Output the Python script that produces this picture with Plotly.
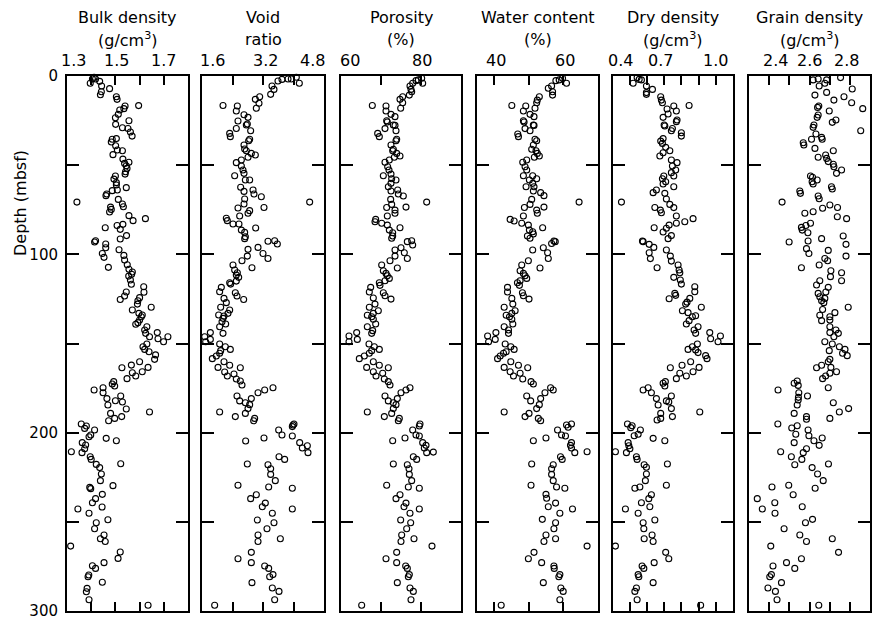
import plotly.graph_objects as go

# ---------------------------------------------------------------- data
# Bulk density (g/cm3) vs depth (mbsf)
BULK_DEPTH = [
    0.7, 1.7, 1.7, 4.1, 3.0, 5.6, 7.1, 8.8, 10.5, 11.6,
    13.1, 16.6, 16.8, 18.3, 19.1, 21.5, 23.4, 25.1, 27.1, 29.0,
    29.4, 31.4, 33.7, 35.5, 37.0, 35.1, 39.1, 41.5, 44.1, 41.9,
    46.6, 49.0, 50.3, 51.8, 48.4, 53.7, 55.0, 56.1, 57.8, 59.8,
    61.1, 62.6, 64.3, 66.2, 67.1, 63.9, 70.7, 69.2, 73.5, 74.8,
    71.8, 73.3, 76.3, 78.3, 81.1, 80.0, 83.2, 86.0, 83.8, 89.5,
    85.1, 91.4, 92.4, 93.1, 94.2, 96.3, 99.5, 101.7, 107.3, 97.4,
    100.6, 103.2, 105.8, 108.4, 109.9, 111.2, 112.2, 114.4, 116.8, 118.2,
    121.3, 124.3, 126.0, 127.9, 121.1, 123.4, 125.3, 129.7,
    131.2, 133.1, 134.0, 135.0, 136.8, 139.2, 138.3, 140.6, 142.4, 144.3,
    146.2, 143.9, 147.3, 146.2, 149.0, 150.3, 151.8, 153.3, 154.6, 156.4,
    158.9, 160.2, 162.1, 166.4, 163.6, 169.7, 168.2, 165.8, 163.4, 171.4,
    172.7, 173.8, 176.1, 174.8, 177.6, 180.9, 184.5, 182.1, 179.4, 182.8,
    186.7, 189.2, 193.3, 192.0, 191.0, 188.4, 195.1, 196.3, 197.6, 198.5,
    201.3, 202.3, 203.2, 204.5, 205.6, 206.9, 209.0, 211.2, 210.7, 213.5,
    215.0, 217.8, 219.6, 223.2, 226.9, 217.4, 229.7, 230.7, 231.4, 234.6,
    239.3, 237.0, 241.7, 242.8, 245.2, 248.8, 250.5, 253.9, 257.4, 259.5,
    261.0, 263.6, 266.9, 270.5, 272.9, 274.6, 276.1, 279.8, 280.8, 283.9,
    287.3, 289.2, 293.7, 296.8,
]
BULK_VALUE = [
    1.412, 1.405, 1.418, 1.396, 1.435, 1.443, 1.476, 1.442, 1.438, 1.504,
    1.507, 1.596, 1.540, 1.535, 1.518, 1.512, 1.500, 1.556, 1.501, 1.529,
    1.552, 1.562, 1.569, 1.487, 1.483, 1.504, 1.501, 1.508, 1.490, 1.529,
    1.531, 1.538, 1.545, 1.548, 1.556, 1.542, 1.540, 1.500, 1.494, 1.504,
    1.504, 1.545, 1.487, 1.464, 1.461, 1.508, 1.341, 1.512, 1.480, 1.483,
    1.529, 1.533, 1.476, 1.556, 1.573, 1.624, 1.531, 1.520, 1.507, 1.546,
    1.458, 1.520, 1.418, 1.414, 1.460, 1.460, 1.446, 1.453, 1.471, 1.515,
    1.535, 1.538, 1.549, 1.556, 1.570, 1.567, 1.555, 1.562, 1.566, 1.617,
    1.618, 1.600, 1.593, 1.591, 1.545, 1.538, 1.520, 1.648,
    1.570, 1.597, 1.611, 1.607, 1.600, 1.584, 1.593, 1.630, 1.621, 1.625,
    1.641, 1.673, 1.676, 1.717, 1.699, 1.630, 1.614, 1.621, 1.639, 1.666,
    1.662, 1.600, 1.566, 1.570, 1.527, 1.548, 1.584, 1.611, 1.635, 1.493,
    1.487, 1.497, 1.412, 1.449, 1.449, 1.465, 1.469, 1.500, 1.522, 1.529,
    1.545, 1.480, 1.472, 1.497, 1.526, 1.641, 1.359, 1.380, 1.373, 1.414,
    1.398, 1.391, 1.462, 1.504, 1.363, 1.377, 1.373, 1.362, 1.318, 1.396,
    1.400, 1.421, 1.435, 1.442, 1.438, 1.522, 1.490, 1.394, 1.398, 1.446,
    1.405, 1.418, 1.445, 1.345, 1.391, 1.469, 1.421, 1.414, 1.453, 1.438,
    1.458, 1.315, 1.520, 1.511, 1.453, 1.405, 1.418, 1.390, 1.387, 1.446,
    1.383, 1.380, 1.391, 1.635,
]

# Void ratio vs depth
VOID_DEPTH = [
    0.7, 1.7, 1.7, 1.9, 2.8, 4.1, 5.6, 7.5, 10.3, 11.6,
    13.1, 15.3, 18.1, 16.5, 16.8, 19.6, 21.7, 23.2, 25.2, 27.5,
    26.9, 29.4, 30.7, 32.2, 34.0, 35.5, 36.3, 38.7, 40.9, 41.9,
    43.4, 44.3, 45.6, 48.6, 47.1, 50.5, 52.7, 54.6, 55.9, 58.3,
    58.3, 62.4, 64.7, 63.9, 66.2, 67.7, 69.0, 70.7, 71.8, 73.7,
    74.0, 75.5, 77.0, 78.5, 79.8, 81.1, 83.0, 83.0, 86.4, 87.7,
    90.1, 91.2, 85.2, 92.7, 92.4, 94.2, 96.1, 97.2, 101.0, 99.5,
    102.3, 103.6, 106.0, 108.8, 110.3, 111.6, 112.9, 115.0, 107.5, 115.9,
    116.7, 118.5, 121.0, 121.5, 123.4, 124.7, 127.1, 129.7, 125.3,
    131.2, 133.1, 134.0, 134.6, 135.9, 137.8, 139.1, 140.6, 144.3, 143.9,
    146.2, 147.7, 149.0, 150.3, 151.8, 153.3, 154.0, 155.5, 157.0, 158.5,
    160.2, 162.2, 163.4, 163.6, 166.0, 168.2, 167.1, 169.9, 171.0, 173.3,
    174.8, 176.1, 177.6, 179.4, 180.9, 182.2, 183.2, 184.3, 186.5, 188.4,
    189.2, 191.0, 192.0, 193.3, 195.7, 195.1, 196.6, 198.5, 201.3, 201.9,
    203.0, 204.7, 205.6, 208.6, 207.3, 211.2, 213.5, 215.0, 217.6, 218.0,
    220.2, 223.4, 226.9, 229.5, 230.5, 231.2, 234.8, 237.0, 239.5, 241.5,
    242.8, 245.2, 249.0, 250.5, 253.9, 257.4, 261.0, 259.5, 267.1, 270.7,
    272.9, 274.8, 276.1, 279.6, 280.8, 284.1, 287.1, 289.0, 293.7, 296.8,
]
VOID_VALUE = [
    4.074, 3.943, 3.856, 3.698, 3.593, 4.153, 3.436, 3.488, 3.401, 3.113,
    2.999, 3.095, 3.025, 2.151, 2.527, 2.500, 2.702, 2.807, 2.544, 2.763,
    2.789, 2.500, 2.876, 2.326, 2.343, 2.850, 2.824, 2.702, 2.719, 2.763,
    2.894, 2.999, 2.807, 2.500, 2.632, 2.632, 2.675, 2.702, 2.457, 2.737,
    2.850, 2.614, 2.702, 2.938, 2.964, 3.156, 2.719, 4.424, 2.702, 3.226,
    2.544, 2.850, 2.807, 2.588, 2.238, 2.264, 2.413, 2.570, 2.632, 2.719,
    2.737, 2.719, 3.008, 3.331, 3.506, 3.576, 3.069, 2.807, 2.789, 3.200,
    3.331, 2.649, 2.413, 2.457, 2.527, 2.500, 2.562, 2.500, 2.911, 2.326,
    2.352, 2.107, 2.063, 2.474, 2.518, 2.177, 2.238, 2.090, 2.693,
    2.326, 2.282, 2.037, 2.177, 2.151, 2.125, 2.221, 2.063, 2.151, 1.819,
    1.670, 1.819, 1.696, 2.063, 2.212, 2.343, 2.090, 2.063, 1.976, 1.871,
    2.177, 2.326, 2.020, 2.605, 2.195, 2.264, 2.439, 2.500, 2.605, 2.649,
    3.462, 3.244, 3.069, 2.518, 2.894, 2.588, 2.737, 2.850, 2.807, 2.063,
    2.737, 2.474, 2.981, 2.955, 3.987, 4.013, 3.969, 3.611, 3.698, 3.969,
    3.226, 2.745, 4.162, 4.232, 4.363, 4.380, 3.620, 3.768, 2.789, 3.331,
    3.401, 3.401, 3.523, 2.544, 3.349, 3.969, 3.025, 2.876, 3.261, 3.182,
    3.969, 3.445, 3.051, 3.488, 3.305, 3.069, 3.069, 3.655, 2.894, 2.544,
    2.894, 3.244, 3.349, 3.462, 3.375, 2.911, 3.445, 3.620, 3.506, 1.932,
]

# Porosity (%) vs depth
POROSITY_DEPTH = [
    1.3, 2.2, 2.6, 4.1, 4.1, 5.6, 7.5, 8.8, 10.7, 11.6,
    13.1, 15.0, 18.1, 16.5, 16.8, 19.6, 21.5, 22.8, 25.1, 25.8,
    27.5, 27.7, 29.5, 30.7, 32.2, 34.0, 35.5, 36.3, 38.7, 41.1,
    41.9, 43.4, 44.9, 45.6, 48.4, 47.1, 50.9, 52.7, 55.0, 55.9,
    57.6, 58.3, 60.2, 62.1, 64.5, 63.9, 66.2, 67.3, 69.2, 72.0,
    70.7, 73.5, 73.7, 75.2, 77.0, 78.5, 80.4, 81.7, 82.6, 83.6,
    85.1, 86.4, 87.9, 89.7, 91.0, 92.9, 92.4, 94.8, 96.3, 97.6,
    99.1, 101.0, 102.3, 103.6, 106.0, 107.7, 109.2, 110.7, 112.0, 113.5,
    114.8, 115.9, 117.4, 118.5, 121.1, 121.5, 123.2, 125.1, 124.5, 127.9,
    129.7, 131.6, 133.1, 134.2, 135.0,
    136.4, 139.1, 140.6, 142.8, 144.3, 143.9, 145.8, 147.7, 149.0, 150.3,
    151.8, 153.3, 154.0, 155.5, 157.0, 158.5, 160.2, 162.2, 163.4, 163.6,
    165.8, 168.2, 166.7, 169.9, 171.4, 173.3, 174.8, 176.1, 177.6, 179.4,
    180.9, 182.2, 183.2, 184.3, 186.5, 188.4, 189.2, 191.0, 192.0, 193.3,
    195.1, 196.3, 198.5, 201.3, 201.9, 203.0, 204.5, 205.6, 207.1, 208.6,
    211.2, 210.9, 213.5, 215.0, 217.6, 218.0, 220.2, 223.4, 226.9, 229.5,
    230.5, 231.2, 234.8, 237.0, 239.5, 241.5, 242.8, 245.2, 249.0, 250.5,
    253.9, 257.4, 261.0, 259.5, 263.6, 267.1, 270.7, 272.9, 274.8, 276.1,
    279.6, 280.8, 284.1, 287.1, 289.0, 293.7, 296.8,
]
POROSITY_VALUE = [
    80.17, 79.33, 78.75, 80.42, 77.92, 77.25, 77.5, 77.67, 77.08, 75.42,
    74.75, 75.42, 74.92, 67.83, 71.25, 71.25, 72.5, 73.5, 71.42, 71.58,
    73.08, 73.5, 71.0, 73.75, 69.17, 69.58, 73.92, 73.75, 72.5, 73.08,
    72.92, 73.92, 74.75, 73.33, 71.0, 72.08, 71.67, 72.0, 72.5, 70.58,
    72.67, 73.75, 72.5, 71.83, 72.5, 74.17, 74.33, 75.58, 72.42, 72.67,
    81.42, 76.25, 71.42, 73.5, 73.5, 71.58, 68.67, 68.5, 70.17, 71.58,
    74.75, 72.08, 72.92, 72.92, 72.67, 76.58, 77.67, 77.92, 75.0, 73.5,
    75.83, 73.5, 76.58, 72.25, 70.17, 74.08, 70.58, 71.25, 71.58, 72.08,
    71.0, 69.58, 69.75, 67.42, 67.08, 70.58, 71.0, 72.5, 68.08, 68.5,
    67.08, 69.33, 68.08, 66.58, 67.67,
    68.08, 68.67, 66.58, 67.92, 67.67, 63.92, 62.0, 64.08, 62.0, 67.0,
    68.33, 69.58, 67.67, 67.08, 65.83, 64.58, 68.08, 69.58, 66.42, 71.83,
    68.08, 68.75, 70.42, 70.83, 71.83, 72.25, 77.25, 76.25, 75.0, 71.0,
    74.08, 71.83, 73.08, 73.75, 73.08, 66.58, 72.67, 70.83, 74.58, 74.33,
    79.75, 79.58, 77.92, 78.75, 79.58, 76.0, 72.92, 80.42, 81.25, 80.83,
    81.42, 83.08, 78.08, 78.92, 73.08, 76.58, 77.0, 77.08, 77.67, 71.42,
    76.83, 79.58, 74.75, 73.75, 76.25, 75.75, 79.58, 77.25, 74.92, 77.42,
    76.42, 75.17, 75.0, 78.25, 82.75, 73.92, 71.25, 73.92, 76.17, 76.58,
    77.08, 76.83, 74.08, 77.25, 78.08, 77.5, 65.17,
]

# Water content (%) vs depth
WATER_DEPTH = [
    1.3, 2.2, 2.6, 4.1, 5.6, 6.9, 8.8, 10.7, 11.6, 13.5,
    15.0, 18.1, 16.5, 16.8, 19.6, 21.5, 22.8, 25.1, 25.8, 27.5,
    27.7, 29.5, 30.7, 32.5, 34.0, 35.5, 36.3, 38.7, 41.1, 41.9,
    43.4, 44.9, 45.6, 48.4, 47.1, 50.9, 52.7, 55.9, 55.9, 57.6,
    58.3, 60.2, 62.1, 62.1, 64.5, 65.4, 67.1, 69.2, 72.0, 70.7,
    73.5, 73.7, 75.2, 77.0, 78.5, 80.4, 81.3, 82.6, 83.6, 85.1,
    86.4, 87.3, 88.6, 89.7, 91.0, 93.9, 92.5, 92.9, 96.3, 97.6,
    99.1, 102.3, 103.6, 106.0, 107.7, 109.2, 110.7, 112.0, 113.5, 114.8,
    115.9, 117.4, 118.5, 121.1, 121.5, 123.2, 125.1, 124.7, 127.9, 129.7,
    131.6, 133.1, 134.2, 135.0,
    136.4, 139.1, 140.6, 142.4, 144.3, 143.9, 145.8, 147.7, 149.0, 150.3,
    151.8, 153.3, 154.6, 155.5, 157.0, 158.5, 160.2, 162.2, 163.4, 163.6,
    165.8, 168.2, 166.7, 169.9, 171.4, 172.7, 174.8, 176.1, 177.6, 179.4,
    180.9, 182.2, 184.3, 186.5, 188.4, 189.2, 191.0, 192.0, 193.3, 195.1,
    195.7, 197.0, 198.5, 201.3, 201.9, 203.0, 204.5, 205.6, 207.1, 208.6,
    211.2, 210.7, 213.5, 215.0, 217.6, 218.0, 220.2, 223.4, 226.9, 229.5,
    230.5, 231.2, 234.6, 236.8, 239.5, 241.5, 242.8, 245.2, 248.6, 250.5,
    253.9, 257.4, 261.0, 259.5, 263.6, 267.1, 270.7, 272.9, 274.8, 276.1,
    279.6, 280.8, 284.1, 287.1, 289.0, 293.7, 296.8,
]
WATER_VALUE = [
    59.74, 58.78, 57.82, 60.89, 56.58, 55.62, 56.86, 56.86, 53.03, 52.45,
    52.26, 51.78, 45.07, 49.10, 48.42, 50.34, 51.49, 48.42, 48.62, 51.30,
    51.49, 48.90, 50.34, 46.79, 46.99, 51.78, 52.26, 51.30, 50.82, 52.07,
    52.45, 53.03, 51.59, 48.23, 49.38, 48.90, 49.38, 48.42, 51.11, 52.26,
    50.15, 51.11, 51.49, 49.19, 51.30, 53.41, 54.37, 50.82, 50.34, 64.53,
    54.37, 48.71, 52.26, 52.45, 48.42, 44.59, 45.74, 47.94, 49.86, 53.99,
    50.15, 51.11, 51.30, 49.58, 50.34, 56.58, 57.25, 57.63, 54.18, 51.11,
    55.42, 55.62, 49.86, 47.94, 53.22, 47.47, 48.42, 48.90, 49.38, 47.47,
    46.70, 47.27, 43.82, 43.82, 48.14, 48.42, 50.05, 45.07, 45.36, 42.86,
    46.03, 45.07, 43.44, 44.40,
    45.07, 45.36, 42.86, 44.11, 44.11, 40.47, 38.07, 40.27, 38.36, 43.15,
    44.78, 45.74, 43.44, 42.67, 41.71, 40.95, 44.78, 46.99, 42.86, 49.67,
    44.59, 45.55, 47.47, 48.23, 50.63, 51.30, 56.29, 57.05, 54.66, 49.38,
    53.41, 50.53, 53.03, 52.26, 42.86, 50.05, 48.90, 52.74, 53.41, 62.33,
    60.89, 61.37, 58.30, 59.45, 60.60, 54.95, 51.30, 62.33, 62.04, 62.33,
    63.29, 66.84, 59.16, 59.64, 50.82, 57.05, 56.58, 56.58, 57.05, 50.63,
    58.01, 60.41, 54.95, 55.14, 57.73, 55.62, 62.62, 58.97, 53.89, 57.73,
    57.25, 54.95, 54.37, 57.73, 66.84, 51.49, 49.86, 53.70, 57.25, 57.34,
    58.97, 58.68, 54.18, 59.26, 59.93, 58.97, 42.00,
]

# Dry density (g/cm3) vs depth
DRY_DEPTH = [
    0.9, 1.9, 2.2, 4.1, 5.6, 7.5, 9.3, 10.3, 11.6, 13.5,
    15.0, 16.5, 16.8, 18.5, 19.6, 21.3, 23.2, 24.7, 25.6, 27.5,
    28.0, 29.4, 30.7, 31.8, 33.7, 35.1, 36.5, 37.8, 40.0, 41.9,
    43.0, 44.9, 47.1, 48.6, 50.5, 52.7, 54.2, 56.1, 56.1, 57.6,
    59.3, 60.6, 62.1, 63.9, 65.4, 65.8, 70.7, 69.0, 72.0, 73.8,
    73.7, 75.2, 76.7, 78.5, 80.0, 81.7, 82.6, 83.6, 85.1, 85.4,
    87.5, 89.5, 91.2, 92.5, 92.9, 94.4, 96.1, 97.6, 99.1, 101.0,
    102.4, 103.8, 106.0, 107.5, 108.8, 110.3, 112.9, 114.4, 116.7, 118.2,
    121.0, 121.9, 123.0, 124.9, 124.7, 126.8, 127.9, 129.7, 131.6, 132.7,
    134.4, 135.0,
    137.2, 139.1, 140.6, 142.4, 144.3, 143.9, 147.3, 145.8, 149.0, 150.3,
    151.8, 153.3, 153.6, 155.1, 156.8, 158.5, 160.2, 162.2, 163.6, 163.4,
    165.8, 166.7, 168.2, 169.7, 171.4, 172.3, 173.8, 176.1, 174.8, 177.6,
    179.4, 180.9, 182.2, 184.5, 182.8, 186.5, 188.4, 189.2, 191.0, 192.0,
    192.9, 195.1, 196.1, 197.2, 198.5, 201.7, 200.9, 203.2, 204.5, 205.6,
    207.3, 209.0, 211.2, 210.7, 213.5, 215.0, 217.6, 218.0, 219.4, 223.2,
    226.9, 229.5, 231.2, 230.5, 234.8, 237.0, 239.3, 241.5, 242.8, 245.2,
    249.0, 250.5, 253.9, 257.4, 259.5, 261.0, 263.6, 267.1, 270.7, 272.9,
    274.8, 276.1, 279.6, 280.8, 284.1, 287.1, 289.0, 293.7, 296.8,
]
DRY_VALUE = [
    0.543, 0.555, 0.568, 0.520, 0.597, 0.632, 0.597, 0.597, 0.680, 0.684,
    0.690, 0.845, 0.756, 0.717, 0.771, 0.723, 0.694, 0.775, 0.771, 0.700,
    0.704, 0.748, 0.742, 0.800, 0.800, 0.694, 0.680, 0.690, 0.709, 0.733,
    0.694, 0.675, 0.742, 0.775, 0.748, 0.767, 0.742, 0.756, 0.698, 0.690,
    0.709, 0.694, 0.756, 0.655, 0.636, 0.704, 0.452, 0.713, 0.733, 0.756,
    0.646, 0.678, 0.684, 0.771, 0.868, 0.820, 0.771, 0.729, 0.642, 0.713,
    0.694, 0.742, 0.723, 0.574, 0.578, 0.613, 0.640, 0.713, 0.613, 0.736,
    0.620, 0.742, 0.781, 0.659, 0.787, 0.791, 0.756, 0.794, 0.800, 0.878,
    0.878, 0.762, 0.767, 0.729, 0.849, 0.833, 0.825, 0.916, 0.806, 0.839,
    0.883, 0.864,
    0.845, 0.829, 0.897, 0.874, 0.883, 0.965, 0.970, 1.027, 1.013, 0.893,
    0.864, 0.839, 0.883, 0.897, 0.941, 0.949, 0.854, 0.804, 0.736, 0.903,
    0.868, 0.791, 0.829, 0.771, 0.707, 0.694, 0.704, 0.578, 0.607, 0.626,
    0.742, 0.655, 0.713, 0.665, 0.727, 0.742, 0.907, 0.680, 0.748, 0.680,
    0.659, 0.487, 0.514, 0.506, 0.562, 0.526, 0.549, 0.636, 0.704, 0.491,
    0.495, 0.501, 0.481, 0.417, 0.539, 0.543, 0.719, 0.584, 0.597, 0.597,
    0.591, 0.713, 0.530, 0.559, 0.626, 0.611, 0.568, 0.617, 0.475, 0.549,
    0.646, 0.578, 0.582, 0.630, 0.584, 0.636, 0.417, 0.709, 0.727, 0.642,
    0.572, 0.582, 0.549, 0.553, 0.636, 0.539, 0.530, 0.543, 0.912,
]

# Grain density (g/cm3) vs depth
GRAIN_DEPTH = [
    0.9, 1.7, 2.2, 2.2, 4.1, 5.6, 7.3, 9.2, 10.7, 11.6,
    13.5, 15.0, 18.3, 16.8, 17.6, 19.6, 21.9, 23.2, 24.7, 26.0,
    27.5, 28.8, 30.7, 32.5, 34.4, 35.5, 35.5, 37.4, 38.7, 40.6,
    41.9, 44.3, 45.6, 46.2, 48.0, 49.5, 52.7, 54.6, 50.9, 56.1,
    56.8, 58.3, 59.3, 60.6, 62.1, 63.4, 64.5, 65.8, 67.3, 68.8,
    70.7, 72.3, 74.2, 73.7, 77.0, 76.1, 78.9, 80.0, 82.6, 83.8,
    84.9, 86.4, 87.9, 89.7, 91.2, 93.1, 92.5, 94.4, 96.8, 97.8,
    99.5, 101.0, 102.3, 103.6, 107.5, 106.0, 109.2, 112.5, 110.3, 114.8,
    114.8, 118.5, 117.2, 121.9, 123.8, 121.1, 124.7, 126.0, 127.1, 129.7,
    130.9, 132.7, 134.2, 135.0,
    137.2, 136.8, 140.6, 142.4, 143.9, 144.3, 146.2, 149.0, 150.3, 151.8,
    154.0, 153.3, 155.5, 156.8, 158.9, 160.2, 162.2, 163.6, 163.4, 165.8,
    166.7, 168.2, 169.7, 171.0, 172.3, 173.5, 174.8, 176.1, 177.6, 179.4,
    180.2, 181.7, 183.2, 184.5, 186.5, 188.4, 189.2, 191.0, 192.0, 192.5,
    195.1, 196.1, 197.4, 198.5, 200.9, 201.7, 203.0, 204.5, 205.6, 207.1,
    209.0, 210.7, 211.2, 213.5, 215.0, 217.6, 218.0, 219.6, 223.2, 226.9,
    229.5, 230.5, 231.2, 234.8, 237.0, 239.3, 241.5, 242.8, 245.2, 248.6,
    250.5, 253.9, 257.4, 259.5, 261.0, 263.6, 267.1, 270.7, 272.9, 274.8,
    276.1, 279.6, 280.8, 284.1, 287.1, 289.0, 293.7, 296.8,
]
GRAIN_VALUE = [
    2.754, 2.643, 2.618, 2.685, 2.676, 2.648, 2.812, 2.685, 2.627, 2.771,
    2.721, 2.809, 2.864, 2.646, 2.640, 2.698, 2.643, 2.638, 2.731, 2.713,
    2.622, 2.618, 2.854, 2.632, 2.660, 2.663, 2.610, 2.569, 2.572, 2.627,
    2.718, 2.680, 2.643, 2.685, 2.693, 2.718, 2.759, 2.734, 2.721, 2.605,
    2.615, 2.638, 2.613, 2.618, 2.709, 2.713, 2.552, 2.555, 2.643, 2.648,
    2.464, 2.701, 2.665, 2.739, 2.577, 2.618, 2.738, 2.784, 2.605, 2.582,
    2.560, 2.564, 2.592, 2.767, 2.660, 2.499, 2.593, 2.781, 2.585, 2.693,
    2.597, 2.781, 2.676, 2.690, 2.560, 2.648, 2.706, 2.704, 2.759, 2.759,
    2.651, 2.693, 2.635, 2.643, 2.651, 2.681, 2.676, 2.660, 2.671, 2.792,
    2.665, 2.726, 2.651, 2.701,
    2.660, 2.701, 2.701, 2.731, 2.701, 2.743, 2.721, 2.676, 2.713, 2.748,
    2.698, 2.776, 2.764, 2.787, 2.701, 2.693, 2.660, 2.635, 2.706, 2.734,
    2.701, 2.680, 2.665, 2.539, 2.524, 2.544, 2.693, 2.444, 2.547, 2.590,
    2.545, 2.544, 2.718, 2.539, 2.794, 2.748, 2.524, 2.585, 2.701, 2.585,
    2.443, 2.539, 2.512, 2.593, 2.532, 2.597, 2.663, 2.622, 2.524, 2.648,
    2.585, 2.457, 2.569, 2.510, 2.562, 2.694, 2.527, 2.613, 2.640, 2.668,
    2.497, 2.414, 2.628, 2.519, 2.341, 2.428, 2.564, 2.366, 2.429, 2.615,
    2.580, 2.474, 2.552, 2.713, 2.585, 2.408, 2.744, 2.560, 2.486, 2.419,
    2.527, 2.411, 2.403, 2.461, 2.394, 2.431, 2.439, 2.646,
]

# Tick marks and labelled values for each column
DEPTH_LABELLED = [0, 100, 200, 300]
DEPTH_MINOR = [50, 150, 250]

BULK_TICKS = [1.3, 1.4, 1.5, 1.6, 1.7, 1.8]
BULK_LABELS = ["1.3", "1.5", "1.7"]
VOID_TICKS = [1.6, 2.4, 3.2, 4.0, 4.8]
VOID_LABELS = ["1.6", "3.2", "4.8"]
POROSITY_TICKS = [60, 70, 80, 90]
POROSITY_LABELS = ["60", "80"]
WATER_TICKS = [40, 50, 60, 70]
WATER_LABELS = ["40", "60"]
DRY_TICKS = [0.4, 0.5, 0.6, 0.7, 0.8, 0.9, 1.0, 1.1]
DRY_LABELS = ["0.4", "0.7", "1.0"]
GRAIN_TICKS = [2.4, 2.5, 2.6, 2.7, 2.8]
GRAIN_LABELS = ["2.4", "2.6", "2.8"]

# Column layout: pixel extent of each frame and the sideways nudge of each
# tick label (labels at a frame edge are pulled back inside the frame).
PANELS = [
    dict(title=("Bulk density", "(g/cm<sup>3</sup>)"), depth=BULK_DEPTH, value=BULK_VALUE,
         rng=(1.3, 1.8), ticks=BULK_TICKS, labels=BULK_LABELS,
         nudge=[6, 1, 0], px=(67, 188)),
    dict(title=("Void", "ratio"), depth=VOID_DEPTH, value=VOID_VALUE,
         rng=(1.6, 4.8), ticks=VOID_TICKS, labels=VOID_LABELS,
         nudge=[10, 2, -12], px=(202, 324)),
    dict(title=("Porosity", "(%)"), depth=POROSITY_DEPTH, value=POROSITY_VALUE,
         rng=(60, 90), ticks=POROSITY_TICKS, labels=POROSITY_LABELS,
         nudge=[9, 1], px=(341, 461)),
    dict(title=("Water content", "(%)"), depth=WATER_DEPTH, value=WATER_VALUE,
         rng=(35, 70), ticks=WATER_TICKS, labels=WATER_LABELS,
         nudge=[2, 2], px=(477, 598)),
    dict(title=("Dry density", "(g/cm<sup>3</sup>)"), depth=DRY_DEPTH, value=DRY_VALUE,
         rng=(0.4, 1.1), ticks=DRY_TICKS, labels=DRY_LABELS,
         nudge=[8, -4, 0], px=(612.5, 733)),
    dict(title=("Grain density", "(g/cm<sup>3</sup>)"), depth=GRAIN_DEPTH, value=GRAIN_VALUE,
         rng=(2.3, 2.9), ticks=GRAIN_TICKS, labels=GRAIN_LABELS,
         nudge=[6, 0, -3], px=(749, 870)),
]

# ---------------------------------------------------------------- figure
W, H = 882, 621
FONT = "DejaVu Sans"
PLOT_TOP, PLOT_BOTTOM = 76, 611
Y_DOMAIN = [1 - PLOT_BOTTOM / H, 1 - PLOT_TOP / H]
TICKLABEL_Y = 61          # centre line of the top tick labels, px from top
TITLE_Y = (17, 39)        # centre lines of the two title rows
TICK_STYLE = dict(ticks="inside", tickwidth=2, tickcolor="black")

fig = go.Figure()
layout = dict(
    width=W, height=H,
    margin=dict(l=0, r=0, t=0, b=0, autoexpand=False),
    paper_bgcolor="white", plot_bgcolor="white",
    showlegend=False,
    font=dict(family=FONT, size=15, color="black"),
    annotations=[],
)

for i, p in enumerate(PANELS):
    n = "" if i == 0 else str(i + 1)
    fig.add_trace(go.Scatter(
        x=p["value"], y=p["depth"], mode="markers",
        xaxis="x" + n, yaxis="y" + n,
        marker=dict(symbol="circle-open", size=6, color="black",
                    line=dict(width=1.1, color="black")),
        cliponaxis=False, hoverinfo="x+y",
    ))
    x0, x1 = p["px"]
    layout["xaxis" + n] = dict(
        domain=[x0 / W, x1 / W], range=list(p["rng"]), side="top",
        anchor="y" + n, tickmode="array", tickvals=p["ticks"], showticklabels=False,
        ticklen=9, **TICK_STYLE,
        showline=True, linewidth=2, linecolor="black", mirror="ticks",
        showgrid=False, zeroline=False, automargin=False,
    )
    layout["yaxis" + n] = dict(
        domain=Y_DOMAIN, range=[300, 0], anchor="x" + n,
        tickmode="array", tickvals=DEPTH_LABELLED,
        ticktext=[str(v) for v in DEPTH_LABELLED],
        showticklabels=(i == 0),
        ticklen=12, **TICK_STYLE,
        minor=dict(tickmode="array", tickvals=DEPTH_MINOR, ticklen=12, **TICK_STYLE),
        showline=True, linewidth=2, linecolor="black", mirror="ticks",
        showgrid=False, zeroline=False, automargin=False,
        ticklabelstandoff=4, tickfont=dict(size=15, family=FONT),
    )

    # labelled tick values along the top of the column, placed on the x scale
    for label, shift in zip(p["labels"], p["nudge"]):
        layout["annotations"].append(dict(
            text=label, x=float(label), xref="x" + n, y=1 - TICKLABEL_Y / H, yref="paper",
            xanchor="center", yanchor="middle", xshift=shift, showarrow=False,
            font=dict(size=16, family=FONT, color="black"),
        ))

    cx = (x0 + x1) / 2 / W
    for line, py in zip(p["title"], TITLE_Y):
        layout["annotations"].append(dict(
            text=line, x=cx, y=1 - py / H, xref="paper", yref="paper",
            xanchor="center", yanchor="middle", showarrow=False,
            font=dict(size=16, family=FONT, color="black"),
        ))

layout["annotations"].append(dict(
    text="Depth (mbsf)", x=20 / W, y=1 - 203 / H, xref="paper", yref="paper",
    xanchor="center", yanchor="middle", textangle=-90, showarrow=False,
    font=dict(size=16, family=FONT, color="black"),
))

fig.update_layout(**layout)
fig.write_html("out.html")
